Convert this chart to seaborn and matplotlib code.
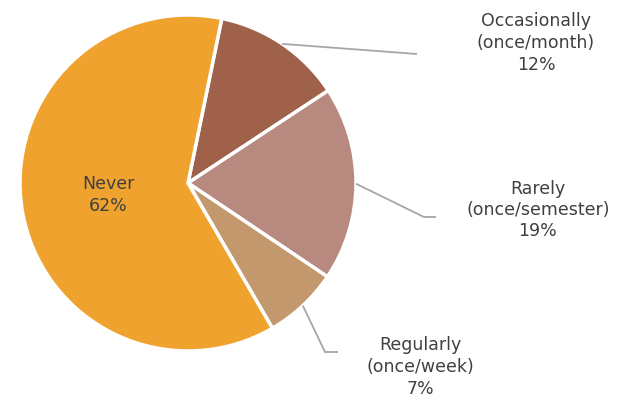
import numpy as np
import matplotlib
matplotlib.use("Agg")
import matplotlib.pyplot as plt
import seaborn as sns

# --- data ---
categories = ["Occasionally\n(once/month)", "Rarely\n(once/semester)", "Regularly\n(once/week)", "Never"]
shares = [12.5, 18.7, 7.2, 61.6]
pct_labels = ["12%", "19%", "7%", "62%"]
colors = ["#A0614A", "#B88A7F", "#C4986D", "#EFA32E"]

sns.set_theme(style="white")
plt.rcParams["font.family"] = ["DejaVu Sans"]

fig = plt.figure(figsize=(6.2, 4.04), dpi=100)
ax = fig.add_axes([0, 0, 1, 1])
ax.set_xlim(0, 620)
ax.set_ylim(404, 0)
ax.axis("off")

cx, cy, r = 188, 183, 168
wedges, _ = ax.pie(shares, colors=colors, startangle=-78.4, counterclock=True,
                   center=(cx, cy), radius=r, frame=True,
                   wedgeprops=dict(edgecolor="white", linewidth=2.5))
ax.set_xlim(0, 620)
ax.set_ylim(404, 0)
ax.axis("off")

txt = "#404040"
fs = 12.5
# label anchor (end of leader line) and text centre for the three outside slices
ends = [[(417, 54)], [(424, 217), (436, 217)], [(325, 352), (338, 352)]]
spots = [(536, 43), (538, 210), (420, 367)]
for w, name, pct, end, spot in zip(wedges[:3], categories[:3], pct_labels[:3], ends, spots):
    mid = np.deg2rad((w.theta1 + w.theta2) / 2)
    sx, sy = cx + r * np.cos(mid), cy + r * np.sin(mid)
    xs = [sx] + [p[0] for p in end]
    ys = [sy] + [p[1] for p in end]
    ax.plot(xs, ys, color="#A6A6A6", lw=1.3, solid_capstyle="butt")
    ax.text(spot[0], spot[1], f"{name}\n{pct}", ha="center", va="center",
            fontsize=fs, color=txt, linespacing=1.25)

ax.text(108, 195, f"{categories[3]}\n{pct_labels[3]}", ha="center", va="center",
        fontsize=fs, color=txt, linespacing=1.25)

fig.savefig("out.png", dpi=100)
